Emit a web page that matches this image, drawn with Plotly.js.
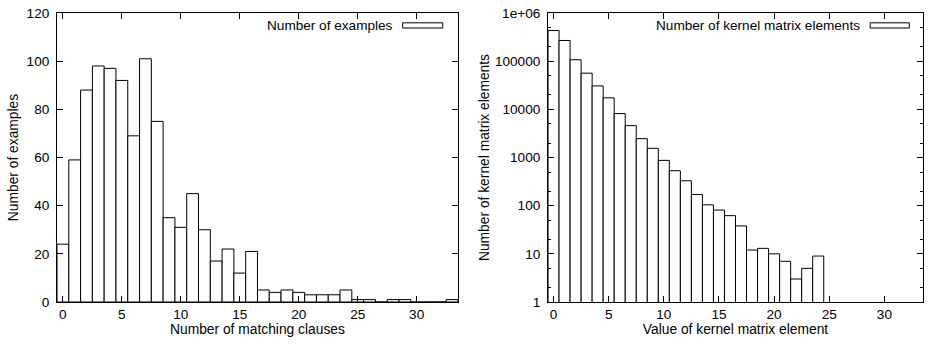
<!DOCTYPE html>
<html>
<head>
<meta charset="utf-8">
<script src="https://cdn.plot.ly/plotly-3.0.1.min.js"></script>
<style>html,body{margin:0;padding:0;background:#fff;}#chart{width:929px;height:348px;}</style>
</head>
<body>
<div id="chart"></div>
<script>
// Left histogram: number of examples per number of matching clauses
const clauseBins = [0,1,2,3,4,5,6,7,8,9,10,11,12,13,14,15,16,17,18,19,20,21,22,23,24,25,26,27,28,29,30,31,32,33];
const exampleCounts = [24,59,88,98,97,92,69,101,75,35,31,45,30,17,22,12,21,5,4,5,4,3,3,3,5,1,1,0,1,1,0,0,0,1];

// Right histogram: number of kernel matrix elements per value
const kernelBins = [0,1,2,3,4,5,6,7,8,9,10,11,12,13,14,15,16,17,18,19,20,21,22,23,24];
const kernelCounts = [434000,269000,107000,56300,30700,17300,8150,4590,2460,1550,871,531,329,171,104,81,62,38,12,13,10,7,3,5,9];

const logTickVals = [1,10,100,1000,10000,100000,1000000];
const logTickText = ['1','10','100','1000','10000','100000','1e+06'];
const logMinorTickVals = [2,5,20,50,200,500,2000,5000,20000,50000,200000,500000];

const leftLegend = 'Number of examples';
const rightLegend = 'Number of kernel matrix elements';

const barStyle = {color:'#ffffff', line:{color:'#000000', width:1}};

const traces = [
  {type:'bar', x:clauseBins, y:exampleCounts, width:1, marker:barStyle, xaxis:'x', yaxis:'y', showlegend:false, name:leftLegend},
  {type:'bar', x:kernelBins, y:kernelCounts, width:1, marker:barStyle, xaxis:'x2', yaxis:'y2', showlegend:false, name:rightLegend}
];

const titleFont = {size:13.8, color:'#000'};
const axCommon = {
  ticks:'inside', ticklen:6, tickwidth:1, tickcolor:'#000',
  showline:true, linecolor:'#000', linewidth:1, mirror:'ticks',
  showgrid:false, zeroline:false
};

const layout = {
  width:929, height:348,
  margin:{l:57, r:6, t:13, b:46},
  paper_bgcolor:'#fff', plot_bgcolor:'#fff',
  font:{family:'"Liberation Sans", Arial, sans-serif', size:13.6, color:'#000'},
  bargap:0,
  showlegend:false,
  xaxis: Object.assign({}, axCommon, {domain:[0,0.463], range:[-0.5,33.5], tick0:0, dtick:5, anchor:'y', ticklabelstandoff:0,
    title:{text:'Number of matching clauses', standoff:0, font:titleFont}}),
  yaxis: Object.assign({}, axCommon, {range:[0,120], tick0:0, dtick:20, anchor:'x', ticklabelstandoff:4,
    title:{text:'Number of examples', standoff:4, font:titleFont}}),
  xaxis2: Object.assign({}, axCommon, {domain:[0.567,1], range:[-0.5,33.5], tick0:0, dtick:5, anchor:'y2', ticklabelstandoff:0,
    title:{text:'Value of kernel matrix element', standoff:0, font:titleFont}}),
  yaxis2: Object.assign({}, axCommon, {type:'log', range:[0,6], anchor:'x2', ticklabelstandoff:4,
    tickmode:'array', tickvals:logTickVals, ticktext:logTickText,
    minor:{tickmode:'array', tickvals:logMinorTickVals, ticks:'inside', ticklen:3, tickcolor:'#000', showgrid:false},
    title:{text:'Number of kernel matrix elements', standoff:2, font:titleFont}}),
  annotations:[
    {xref:'x domain', yref:'y domain', x:0.842, y:0.956, xanchor:'right', yanchor:'middle', text:leftLegend, showarrow:false},
    {xref:'x2 domain', yref:'y2 domain', x:0.838, y:0.956, xanchor:'right', yanchor:'middle', text:rightLegend, showarrow:false}
  ],
  shapes:[
    {type:'rect', xref:'x domain', yref:'y domain', x0:0.862, x1:0.962, y0:0.948, y1:0.966, line:{color:'#000', width:1}, fillcolor:'#fff'},
    {type:'rect', xref:'x2 domain', yref:'y2 domain', x0:0.859, x1:0.9635, y0:0.948, y1:0.966, line:{color:'#000', width:1}, fillcolor:'#fff'}
  ]
};

Plotly.newPlot('chart', traces, layout, {staticPlot:true, displayModeBar:false});
</script>
</body>
</html>
